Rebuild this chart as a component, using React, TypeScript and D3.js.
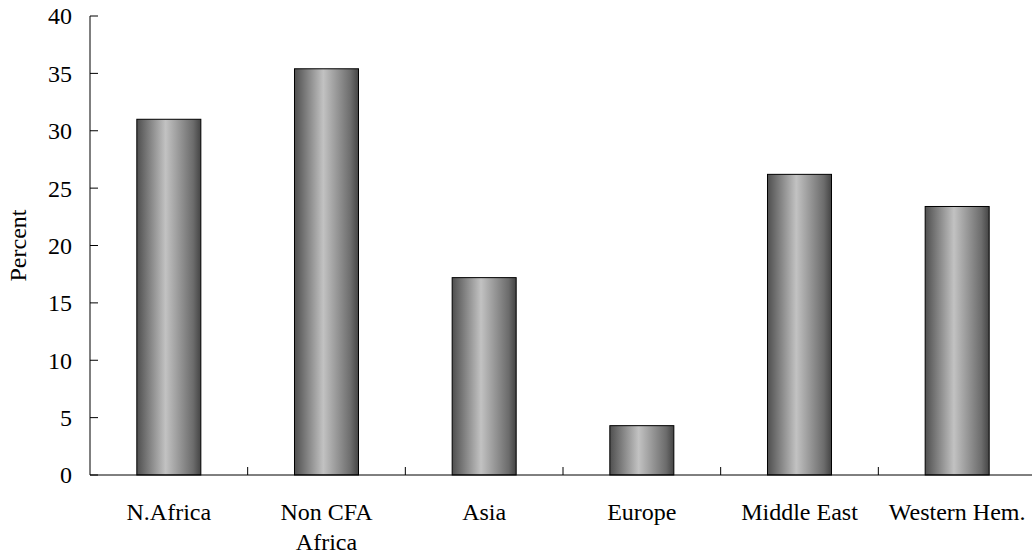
import * as d3 from "d3";
import React, { useCallback } from "react";

const categories = ["N.Africa", "Non CFA\nAfrica", "Asia", "Europe", "Middle East", "Western Hem."];
const values = [31.0, 35.4, 17.2, 4.3, 26.2, 23.4];
const yTicks = [0, 5, 10, 15, 20, 25, 30, 35, 40];

const W = 1032;
const H = 559;
const margin = { top: 16, right: -4, bottom: 84, left: 90 };
const FONT = "Liberation Serif, Tinos, Times, DejaVu Serif, serif";

function drawChart(node: SVGSVGElement | null) {
  if (!node) return;
  const svg = d3.select(node);
  svg.selectAll("*").remove();

  const x0 = margin.left;
  const x1 = W - margin.right;
  const y0 = H - margin.bottom;

  // band scale for bars, centred in each category slot
  const x = d3.scaleBand().domain(categories).range([x0, x1]).paddingInner(0.594).paddingOuter(0.297);
  const step = x.step();
  const y = d3.scaleLinear().domain([0, 40]).range([y0, margin.top]);

  const grad = svg
    .append("defs")
    .append("linearGradient")
    .attr("id", "barGrad")
    .attr("x1", "0%")
    .attr("x2", "100%")
    .attr("y1", "0%")
    .attr("y2", "0%");
  [
    [0, "#4f4f4f"],
    [0.45, "#c2c2c2"],
    [0.88, "#6c6c6c"],
    [1, "#444444"],
  ].forEach(([o, c]) => grad.append("stop").attr("offset", o as number).attr("stop-color", c as string));

  // bars
  svg
    .append("g")
    .selectAll("rect")
    .data(categories)
    .join("rect")
    .attr("x", d => x(d)!)
    .attr("y", (d, i) => y(values[i]))
    .attr("width", x.bandwidth())
    .attr("height", (d, i) => y(0) - y(values[i]))
    .attr("fill", "url(#barGrad)")
    .attr("stroke", "#000")
    .attr("stroke-width", 1);

  // y axis
  const yAxis = svg.append("g").attr("transform", `translate(${x0},0)`);
  yAxis.append("line").attr("x1", 0).attr("x2", 0).attr("y1", y(40)).attr("y2", y0).attr("stroke", "#000");
  yAxis
    .selectAll("line.tick")
    .data(yTicks)
    .join("line")
    .attr("class", "tick")
    .attr("x1", 0)
    .attr("x2", 8)
    .attr("y1", d => y(d))
    .attr("y2", d => y(d))
    .attr("stroke", "#000");
  yAxis
    .selectAll("text")
    .data(yTicks)
    .join("text")
    .attr("x", -18)
    .attr("y", d => y(d))
    .attr("dy", "0.35em")
    .attr("text-anchor", "end")
    .style("font-family", FONT)
    .attr("font-size", 24)
    .text(d => d);

  // x axis
  const xAxis = svg.append("g");
  xAxis.append("line").attr("x1", x0).attr("x2", x1).attr("y1", y0).attr("y2", y0).attr("stroke", "#000");
  xAxis
    .selectAll("line.tick")
    .data(categories.slice(1))
    .join("line")
    .attr("class", "tick")
    .attr("x1", (d, i) => x0 + step * (i + 1))
    .attr("x2", (d, i) => x0 + step * (i + 1))
    .attr("y1", y0)
    .attr("y2", y0 - 8)
    .attr("stroke", "#000");
  const labels = xAxis
    .selectAll("text")
    .data(categories)
    .join("text")
    .attr("x", d => x(d)! + x.bandwidth() / 2)
    .attr("y", y0 + 45)
    .attr("text-anchor", "middle")
    .style("font-family", FONT)
    .attr("font-size", 24);
  labels
    .selectAll("tspan")
    .data(d => d.split("\n"))
    .join("tspan")
    .attr("x", function () {
      return (this.parentNode as SVGTextElement).getAttribute("x");
    })
    .attr("dy", (d, i) => (i === 0 ? 0 : 30))
    .text(d => d);

  // y label
  svg
    .append("text")
    .attr("transform", `translate(26,${(y(40) + y0) / 2}) rotate(-90)`)
    .attr("text-anchor", "middle")
    .style("font-family", FONT)
    .attr("font-size", 24)
    .text("Percent");
}

export default function App() {
  const ref = useCallback((node: SVGSVGElement | null) => drawChart(node), []);
  return (
    <svg
      ref={ref}
      width={W}
      height={H}
      style={{ position: "absolute", left: 0, top: 0, background: "#fff" }}
    />
  );
}
